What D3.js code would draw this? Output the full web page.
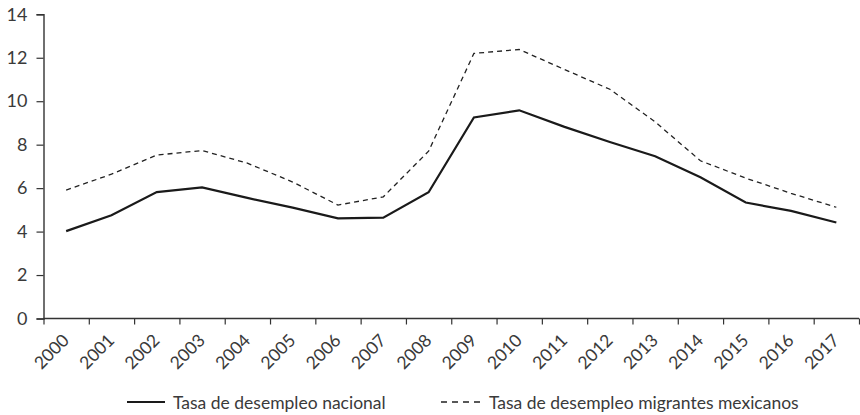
<!DOCTYPE html>
<html>
<head>
<meta charset="utf-8">
<script src="https://cdn.jsdelivr.net/npm/d3@7"></script>
<style>
  body { margin: 0; background: #fff; }
  svg { display: block; }
  text { font-family: Lato, "Open Sans", sans-serif; fill: #3a3a3a; }
</style>
</head>
<body>
<svg id="chart" width="860" height="415"></svg>
<script>
// data
const years = [2000, 2001, 2002, 2003, 2004, 2005, 2006, 2007, 2008,
               2009, 2010, 2011, 2012, 2013, 2014, 2015, 2016, 2017];
const nacional = [4.02, 4.75, 5.82, 6.03, 5.55, 5.1, 4.61, 4.64, 5.81,
                  9.25, 9.58, 8.82, 8.12, 7.47, 6.5, 5.34, 4.95, 4.42];
const migrantes = [5.91, 6.64, 7.52, 7.73, 7.15, 6.28, 5.22, 5.6, 7.7,
                   12.2, 12.38, 11.46, 10.55, 9.05, 7.26, 6.46, 5.76, 5.12];
const yTicks = [0, 2, 4, 6, 8, 10, 12, 14];
const legendLabels = ["Tasa de desempleo nacional", "Tasa de desempleo migrantes mexicanos"];

const svg = d3.select("#chart");
const mLeft = 43.5, mRight = 859, mTop = 14.3, mBottom = 318.5;

// one slot per year, ticks on slot edges
const x = d3.scaleLinear().domain([0, years.length]).range([mLeft, mRight]);
const y = d3.scaleLinear().domain([0, 14]).range([mBottom, mTop]);

// y axis
const yAxis = svg.append("g")
    .attr("transform", `translate(${mLeft},0)`)
    .call(d3.axisLeft(y).tickValues(yTicks).tickSize(7).tickPadding(9));
yAxis.select(".domain").attr("stroke", "#333").attr("stroke-width", 1.4);
yAxis.selectAll(".tick line").attr("stroke", "#333").attr("stroke-width", 1.2);
yAxis.selectAll(".tick text").style("font-size", "18px").attr("fill", "#3a3a3a");

// x axis
const xAxis = svg.append("g")
    .attr("transform", `translate(0,${mBottom})`)
    .call(d3.axisBottom(x).tickValues(d3.range(years.length + 1)).tickSize(6).tickFormat(""));
xAxis.select(".domain").attr("stroke", "#333").attr("stroke-width", 1.6)
    .attr("d", `M${mLeft},0H${mRight}`);
xAxis.selectAll(".tick line").attr("stroke", "#333").attr("stroke-width", 1.2);

svg.append("g").selectAll("text")
  .data(years)
  .join("text")
    .attr("transform", (d, i) => `translate(${x(i + 0.5) + 4},${mBottom + 23}) rotate(-45)`)
    .attr("text-anchor", "end")
    .style("font-size", "17.5px")
    .text(d => d);

// lines
const line = d3.line()
    .x((d, i) => x(i + 0.5))
    .y(d => y(d));

svg.append("path")
    .datum(migrantes)
    .attr("fill", "none")
    .attr("stroke", "#222")
    .attr("stroke-width", 1.3)
    .attr("stroke-dasharray", "5,4")
    .attr("d", line);

svg.append("path")
    .datum(nacional)
    .attr("fill", "none")
    .attr("stroke", "#1a1a1a")
    .attr("stroke-width", 2.2)
    .attr("d", line);

// legend
const legend = svg.append("g").attr("transform", "translate(0,402)");
legend.append("line").attr("x1", 127).attr("x2", 165).attr("y1", 0).attr("y2", 0)
    .attr("stroke", "#1a1a1a").attr("stroke-width", 2.2);
legend.append("text").attr("x", 173).attr("y", 7)
    .style("font-size", "17.5px").text(legendLabels[0]);
legend.append("line").attr("x1", 441).attr("x2", 480).attr("y1", 0).attr("y2", 0)
    .attr("stroke", "#222").attr("stroke-width", 1.3).attr("stroke-dasharray", "6,5");
legend.append("text").attr("x", 489).attr("y", 7)
    .style("font-size", "17.5px").text(legendLabels[1]);
</script>
</body>
</html>
